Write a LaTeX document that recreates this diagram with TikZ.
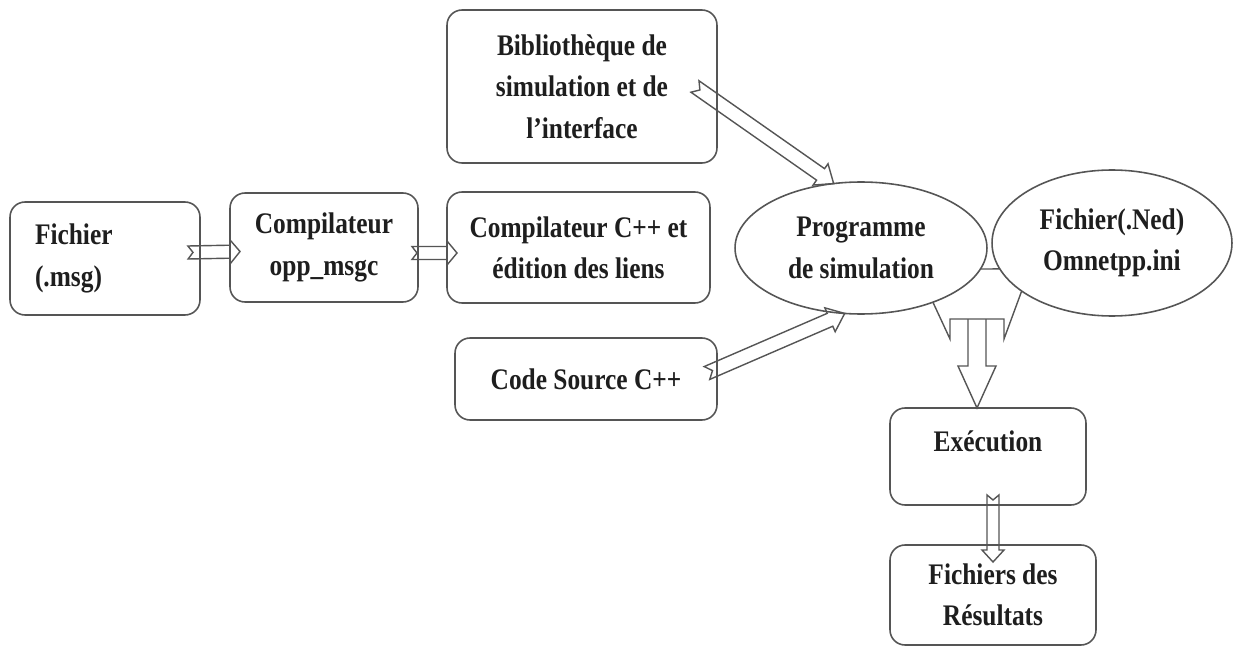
\documentclass[tikz,border=0pt]{standalone}
\usepackage{fontspec}
\setmainfont{Liberation Serif}[FakeStretch=0.85]
\usetikzlibrary{calc,shapes.geometric}
\definecolor{linegray}{HTML}{555555}
\definecolor{textblack}{HTML}{1E1E1E}
\pgfdeclarelayer{bg}
\pgfsetlayers{bg,main}
% notched block arrow: from, to, shaft half width, head half width, head length, notch
\newcommand{\blockarrow}[6]{%
  \path (#1) coordinate (ba-s) (#2) coordinate (ba-t);
  \path ($(ba-t)!#5!(ba-s)$) coordinate (ba-b);
  \draw[blockline] ($(ba-s)!#3!90:(ba-t)$) -- ($(ba-b)!#3!90:(ba-t)$)
    -- ($(ba-b)!#4!90:(ba-t)$) -- (ba-t) -- ($(ba-b)!#4!-90:(ba-t)$)
    -- ($(ba-b)!#3!-90:(ba-t)$) -- ($(ba-s)!#3!-90:(ba-t)$)
    -- ($(ba-s)!#6!(ba-t)$) -- cycle;
}
\begin{document}
\begin{tikzpicture}[x=0.02cm,y=-0.02cm,
  font=\fontsize{17}{23.5}\selectfont\bfseries,text=textblack,
  box/.style={draw=linegray,line width=0.9pt,rounded corners=0.3cm,align=center,inner sep=0pt,outer sep=0pt},
  oval/.style={draw=linegray,line width=0.9pt,ellipse,fill=white,align=center,inner sep=0pt,outer sep=0pt},
  blockline/.style={draw=linegray,line width=0.8pt,line join=miter}]
\useasboundingbox[fill=white] (0,0) rectangle (1235,652);
% boxes
\node (fichier) at (105,258.5) [box,minimum width=3.8cm,minimum height=2.26cm,text width=2.8cm,align=left] {Fichier\\(.msg)};
\node (compil) at (324,247.5) [box,minimum width=3.76cm,minimum height=2.18cm] {Compilateur\\opp\_msgc};
\node (cpp) at (578.5,247.5) [box,minimum width=5.26cm,minimum height=2.22cm] {Compilateur C++ et\\édition des liens};
\node (biblio) at (582,86.5) [box,minimum width=5.4cm,minimum height=3.06cm] {Bibliothèque de\\simulation et de\\l’interface};
\node (code) at (586,379) [box,minimum width=5.24cm,minimum height=1.64cm] {Code Source C++};
\node (prog) at (861,248) [oval,minimum width=5.04cm,minimum height=2.64cm] {Programme\\de simulation};
\node (ned) at (1112,243) [oval,minimum width=4.8cm,minimum height=2.92cm] {Fichier(.Ned)\\Omnetpp.ini};
\node (exec) at (988,456.5) [box,minimum width=3.92cm,minimum height=1.94cm,text depth=0.6cm] {Exécution};
\node (res) at (993,595) [box,minimum width=4.12cm,minimum height=2cm] {Fichiers des\\Résultats};
% arrows
\blockarrow{$(fichier.east)+(-12,-6)$}{$(compil.west)+(10,4)$}{0.13cm}{0.24cm}{0.2cm}{0.1cm}
\blockarrow{$(compil.east)+(-6,5.5)$}{$(cpp.west)+(10,5.5)$}{0.13cm}{0.24cm}{0.2cm}{0.1cm}
\begin{pgfonlayer}{bg}
\blockarrow{$(cpp.east)+(-10,0)$}{$(prog.west)+(25,0)$}{0.11cm}{0.2cm}{0.2cm}{0.1cm}
\end{pgfonlayer}
\blockarrow{$(biblio.east)+(-22,0)$}{prog.113}{0.14cm}{0.26cm}{0.32cm}{0.12cm}
\blockarrow{$(code.east)+(-10,-6)$}{prog.256.6}{0.14cm}{0.26cm}{0.32cm}{0.12cm}
\blockarrow{$(exec.south)+(5,-10)$}{$(res.north)+(0,17)$}{0.12cm}{0.22cm}{0.24cm}{0.1cm}
\draw[blockline] (prog.-10.5) -- (ned.193.6);
% merged arrow down to Exécution
\draw[blockline] (prog.-37.4) -- (950,339) -- (950,319) -- (1004,319) -- (1004,339) -- (ned.208.5);
\draw[blockline] (968,319) -- (968,366) -- (958,366) -- (exec.north -| 977,0) -- (996,366) -- (986,366) -- (986,319);
\end{tikzpicture}
\end{document}
